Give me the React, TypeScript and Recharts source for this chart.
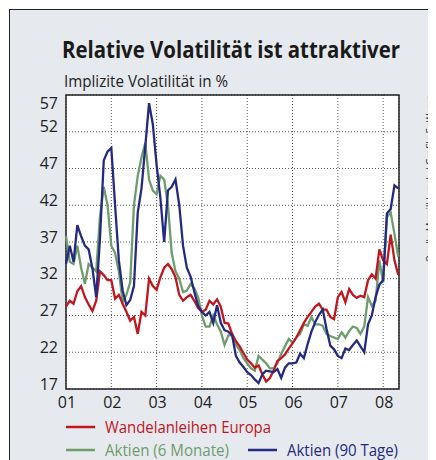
import React from 'react';
import { LineChart, Line, XAxis, YAxis, CartesianGrid, ReferenceArea } from 'recharts';

// monthly readings, Jan 2001 .. May 2008
const START_YEAR = 2001;

const wandelanleihen = [
  28.2, 29.0, 28.6, 30.3, 31.0, 29.5, 28.5, 27.6, 29.0, 33.0, 32.5, 31.8,
  31.8, 29.3, 29.8, 28.6, 27.5, 26.3, 26.8, 24.5, 27.5, 27.0, 32.0, 31.0,
  30.5, 32.2, 33.5, 34.0, 33.3, 32.2, 29.8, 29.0, 29.5, 29.8, 29.0, 28.0,
  27.5, 27.8, 29.0, 28.5, 29.2, 28.2, 26.0, 25.9, 24.5, 23.5, 22.8, 21.9,
  21.0, 20.5, 19.9, 20.2, 19.0, 18.0, 18.5, 19.5, 20.8, 21.2, 21.7, 22.5,
  23.2, 24.0, 25.0, 26.0, 26.8, 27.5, 28.2, 28.6, 27.8, 27.8, 26.8, 26.5,
  29.5, 30.2, 28.8, 30.6, 29.8, 29.4, 29.7, 29.5, 31.8, 32.6, 32.0, 36.0,
  34.5, 34.0, 38.0, 34.5, 32.5,
];

const aktien6m = [
  37.8, 34.3, 34.0, 36.5, 33.5, 31.3, 34.0, 33.5, 33.0, 40.5, 44.5, 42.0,
  36.5, 35.5, 33.0, 28.8, 29.8, 31.5, 42.0, 46.0, 48.5, 50.5, 45.5, 44.0,
  43.5, 46.0, 45.5, 42.0, 35.5, 33.0, 32.0, 30.2, 30.4, 31.3, 30.7, 29.5,
  27.0, 25.5, 25.5, 27.0, 25.8, 24.8, 23.0, 24.3, 24.3, 23.0, 22.3, 21.2,
  20.5, 19.8, 19.5, 21.5, 21.0, 20.5, 19.8, 19.8, 20.5, 21.8, 22.8, 23.8,
  23.3, 24.0, 24.5, 25.8, 25.6, 26.8, 25.8, 25.8, 25.6, 24.5, 24.2, 24.0,
  23.8, 24.7, 24.0, 24.9, 25.5, 25.3, 24.5, 25.5, 29.5, 28.3, 29.0, 34.5,
  31.5, 40.4, 41.0, 38.1, 35.0,
];

const aktien90 = [
  34.0, 36.5, 34.3, 39.3, 37.8, 36.5, 36.0, 33.4, 29.5, 37.5, 48.1, 49.3,
  49.8, 42.0, 34.5, 30.4, 28.4, 29.1, 31.0, 41.0, 44.3, 50.0, 55.9, 53.0,
  47.5, 43.0, 37.0, 44.0, 44.5, 45.5, 42.0, 36.5, 33.5, 32.3, 30.2, 28.3,
  27.5, 27.0, 27.5, 26.0, 28.4, 26.0, 25.0, 24.8, 24.3, 21.5, 20.6, 20.0,
  19.3, 18.9, 18.3, 17.8, 19.0, 19.5, 19.4, 19.3, 19.7, 18.5, 19.9, 20.5,
  20.5, 20.6, 21.8, 21.2, 23.1, 24.8, 26.1, 27.1, 27.8, 25.2, 22.9, 22.4,
  21.5, 21.2, 22.5, 22.3, 23.0, 23.6, 22.8, 22.0, 25.8, 27.0, 29.5, 31.2,
  31.8, 40.9, 41.5, 44.7, 44.3,
];

const yearTicks = [2001, 2002, 2003, 2004, 2005, 2006, 2007, 2008];
const valueTicks = [17, 22, 27, 32, 37, 42, 47, 52, 57];
const X_DOMAIN = [2001, 2008.35];

const RED = '#c1161e';
const GREEN = '#6e9c6c';
const BLUE = '#232a80';

const legendRows = [
  { label: 'Wandelanleihen Europa', color: RED, lineX: 58, textX: 97, y: 425, len: 166 },
  { label: 'Aktien (6 Monate)', color: GREEN, lineX: 58, textX: 97, y: 448, len: 124 },
  { label: 'Aktien (90 Tage)', color: BLUE, lineX: 240, textX: 279, y: 448, len: 111 },
];

const data = wandelanleihen.map((w, i) => ({
  t: START_YEAR + i / 12,
  wandel: w,
  a6: aktien6m[i],
  a90: aktien90[i],
}));

const FONT = '"Open Sans", "Noto Sans", sans-serif';

const YTick = ({ x, y, payload }: any) => (
  <text
    x={x}
    y={y + (payload.value === 57 ? 8 : -5)}
    dy="0.35em"
    textAnchor="end"
    fontSize={16}
    fontFamily={FONT}
    fill="#222"
  >
    {payload.value}
  </text>
);

const XTick = ({ x, y, payload }: any) => (
  <text x={x + 1} y={y + 13} dy="0.35em" textAnchor="middle" fontSize={16} fontFamily={FONT} fill="#222">
    {String(payload.value).slice(2)}
  </text>
);

export default function App() {
  return (
    <div style={{ position: 'relative', width: 428, height: 452, overflow: 'hidden' }}>
      <div
        style={{
          position: 'absolute',
          left: 1,
          top: 1,
          width: 470,
          height: 480,
          background: '#e6e9ee',
          borderTop: '1.5px solid #222',
          borderLeft: '1.5px solid #222',
        }}
      />
      <div style={{ position: 'absolute', left: 0, top: 0 }}>
        <LineChart width={428} height={452} data={data} margin={{ top: 87, right: 37, bottom: 41, left: 0 }}>
          <CartesianGrid fill="#fff" stroke="#555" strokeDasharray="1 2" />
          <XAxis
            dataKey="t"
            type="number"
            domain={X_DOMAIN}
            ticks={yearTicks}
            tick={<XTick />}
            tickLine={false}
            tickSize={0}
            tickMargin={0}
            height={30}
            axisLine={false}
          />
          <YAxis
            domain={[17, 57]}
            ticks={valueTicks}
            tick={<YTick />}
            tickLine={false}
            tickSize={0}
            tickMargin={8}
            width={58}
            axisLine={false}
          />
          <Line dataKey="a6" stroke={GREEN} strokeWidth={2.3} dot={false} isAnimationActive={false} />
          <Line dataKey="wandel" stroke={RED} strokeWidth={2.3} dot={false} isAnimationActive={false} />
          <Line dataKey="a90" stroke={BLUE} strokeWidth={2.3} dot={false} isAnimationActive={false} />
          <ReferenceArea
            x1={X_DOMAIN[0]}
            x2={X_DOMAIN[1]}
            y1={17}
            y2={57}
            fill="none"
            fillOpacity={0}
            stroke="#222"
            strokeWidth={1.5}
            ifOverflow="visible"
          />
        </LineChart>
      </div>
      <svg
        width={428}
        height={452}
        style={{ position: 'absolute', left: 0, top: 0, pointerEvents: 'none' }}
        fontFamily={FONT}
      >
        <text x={54} y={50} fontSize={24} fontWeight={700} fill="#1a1a1a" textLength={338} lengthAdjust="spacingAndGlyphs">
          Relative Volatilität ist attraktiver
        </text>
        <text x={56} y={79} fontSize={16} fill="#222" textLength={164} lengthAdjust="spacingAndGlyphs">
          Implizite Volatilität in %
        </text>
        <text
          transform="translate(425.5 254.5) rotate(-90)"
          fontSize={10.5}
          fill="#333"
          textLength={167}
          lengthAdjust="spacingAndGlyphs"
        >
          Quelle:Merrill Lynch / Grafik: FuW, mz
        </text>
        {legendRows.map((r) => (
          <g key={r.label}>
            <line x1={r.lineX} x2={r.lineX + 29} y1={r.y - 6} y2={r.y - 6} stroke={r.color} strokeWidth={2.5} />
            <text x={r.textX} y={r.y} fontSize={16} fill={r.color} textLength={r.len} lengthAdjust="spacingAndGlyphs">
              {r.label}
            </text>
          </g>
        ))}
      </svg>
    </div>
  );
}
